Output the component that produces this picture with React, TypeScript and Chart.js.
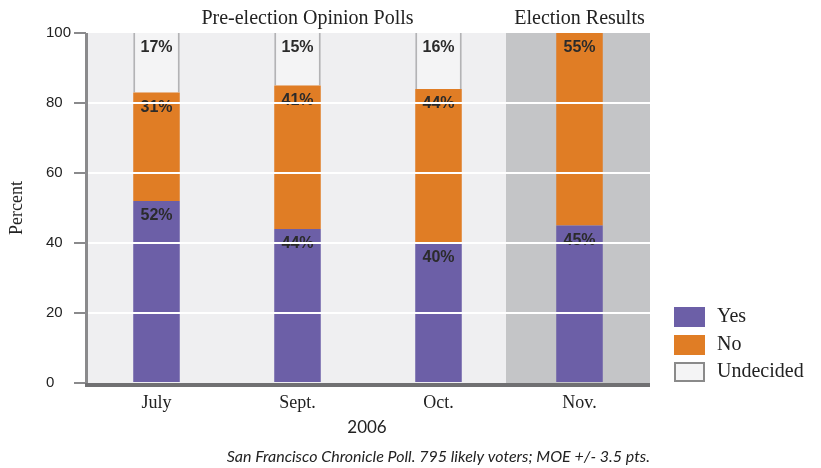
import React, { useEffect, useRef } from "react";
import { Chart, registerables } from "chart.js";

Chart.register(...registerables);

const categories = ["July", "Sept.", "Oct.", "Nov."];
const yesValues = [52, 44, 40, 45];
const noValues = [31, 41, 44, 55];
const undecidedValues: (number | null)[] = [17, 15, 16, null];
const seriesNames = ["Yes", "No", "Undecided"];
const sectionTitles = ["Pre-election Opinion Polls", "Election Results"];
const yearLabel = "2006";
const yAxisLabel = "Percent";
const footnote = "San Francisco Chronicle Poll. 795 likely voters; MOE +/- 3.5 pts.";

const PURPLE = "#6c5fa7";
const ORANGE = "#e07d25";
const UNDEC = "#f4f4f5";
const UNDEC_BORDER = "#b3b3b5";
const PLOT_BG = "#efeff1";
const RESULT_BG = "#c4c5c7";
const SERIF = "'Liberation Serif', 'DejaVu Serif', serif";
const SANS = "'Liberation Sans', Arial, sans-serif";
const HUMANIST = "Lato, 'Open Sans', sans-serif";

const decorPlugin = {
  id: "decor",
  beforeDatasetsDraw(chart: any) {
    const { ctx, chartArea, scales } = chart;
    const x = scales.x;
    ctx.save();
    ctx.fillStyle = PLOT_BG;
    ctx.fillRect(chartArea.left, chartArea.top, chartArea.right - chartArea.left, chartArea.bottom - chartArea.top);
    const split = (x.getPixelForValue(2) + x.getPixelForValue(3)) / 2 - 3;
    ctx.fillStyle = RESULT_BG;
    ctx.fillRect(split, chartArea.top, chartArea.right - split, chartArea.bottom - chartArea.top);
    ctx.restore();
  },
  afterDatasetsDraw(chart: any) {
    const { ctx } = chart;
    ctx.save();
    ctx.font = `bold 16px ${SANS}`;
    ctx.fillStyle = "#2b2b2b";
    ctx.textAlign = "center";
    ctx.textBaseline = "middle";
    chart.data.datasets.forEach((ds: any, di: number) => {
      const meta = chart.getDatasetMeta(di);
      meta.data.forEach((el: any, i: number) => {
        const v = ds.data[i];
        if (v === null || v === undefined) return;
        ctx.fillText(`${v}%`, el.x, el.y + 15);
      });
    });
    ctx.restore();
  },
  afterDraw(chart: any) {
    const { ctx, chartArea, scales } = chart;
    const x = scales.x;
    ctx.save();
    // axis lines
    ctx.fillStyle = "#8a8a8c";
    ctx.fillRect(chartArea.left - 1, chartArea.top, 3, chartArea.bottom - chartArea.top + 2);
    ctx.fillStyle = "#707072";
    ctx.fillRect(chartArea.left - 1, chartArea.bottom, chartArea.right - chartArea.left + 1, 4);

    // section titles
    ctx.fillStyle = "#222";
    ctx.textBaseline = "middle";
    ctx.textAlign = "center";
    ctx.font = `20px ${SERIF}`;
    ctx.fillText(sectionTitles[0], x.getPixelForValue(1) + 10, 19);
    ctx.fillText(sectionTitles[1], x.getPixelForValue(3), 19);

    // y label
    ctx.save();
    ctx.translate(17, (chartArea.top + chartArea.bottom) / 2);
    ctx.rotate(-Math.PI / 2);
    ctx.font = `18px ${SERIF}`;
    ctx.fillText(yAxisLabel, 0, 0);
    ctx.restore();

    // year
    ctx.font = `17px ${HUMANIST}`;
    ctx.fillText(yearLabel, 367, 428);

    // footnote
    ctx.font = `italic 16px ${HUMANIST}`;
    ctx.textAlign = "right";
    ctx.fillText(footnote, chartArea.right, 457);

    // legend
    const fills = [PURPLE, ORANGE, UNDEC];
    const tops = [307, 335, 362];
    ctx.textAlign = "left";
    ctx.font = `20px ${SERIF}`;
    seriesNames.forEach((name, i) => {
      ctx.fillStyle = fills[i];
      ctx.fillRect(674, tops[i], 31, 20);
      if (i === 2) {
        ctx.strokeStyle = "#8a8a8a";
        ctx.lineWidth = 2;
        ctx.strokeRect(675, tops[i] + 1, 29, 18);
      }
      ctx.fillStyle = "#222";
      ctx.fillText(name, 717, tops[i] + 10);
    });
    ctx.restore();
  },
};

export default function App() {
  const ref = useRef<HTMLCanvasElement>(null);
  useEffect(() => {
    if (!ref.current) return;
    const chart = new Chart(ref.current, {
      type: "bar",
      data: {
        labels: categories,
        datasets: [
          { label: seriesNames[0], data: yesValues, backgroundColor: PURPLE, borderWidth: 0 },
          { label: seriesNames[1], data: noValues, backgroundColor: ORANGE, borderWidth: 0 },
          {
            label: seriesNames[2],
            data: undecidedValues,
            backgroundColor: UNDEC,
            borderColor: UNDEC_BORDER,
            borderWidth: { left: 2, right: 2, top: 0, bottom: 0 },
            borderSkipped: false,
          },
        ],
      },
      options: {
        animation: false,
        responsive: true,
        maintainAspectRatio: false,
        devicePixelRatio: 1,
        layout: { padding: { top: 33, right: 171, bottom: 0, left: 46 } },
        plugins: { legend: { display: false }, tooltip: { enabled: false }, title: { display: false } },
        datasets: { bar: { categoryPercentage: 1, barPercentage: 0.33 } },
        scales: {
          x: {
            stacked: true,
            grid: { display: false, drawTicks: false },
            border: { display: false },
            ticks: { font: { family: SERIF, size: 18 }, color: "#222", padding: 9 },
            afterFit: (s: any) => { s.height = 85; },
          },
          y: {
            stacked: true,
            min: 0,
            max: 100,
            border: { display: false },
            grid: {
              z: 1,
              color: (c: any) => (c.tick && (c.tick.value === 0 || c.tick.value === 100) ? "rgba(0,0,0,0)" : "#ffffff"),
              lineWidth: 2,
              tickLength: 12,
              tickColor: "#8a8a8c",
              drawTicks: true,
            },
            ticks: { stepSize: 20, crossAlign: "far", font: { family: SANS, size: 15 }, color: "#222", padding: 2 },
            afterFit: (s: any) => { s.width = 40; },
          },
        },
      },
      plugins: [decorPlugin],
    } as any);
    return () => chart.destroy();
  }, []);
  return (
    <div style={{ position: "absolute", left: 0, top: 0, width: 821, height: 468, background: "#fff" }}>
      <canvas ref={ref} />
    </div>
  );
}
